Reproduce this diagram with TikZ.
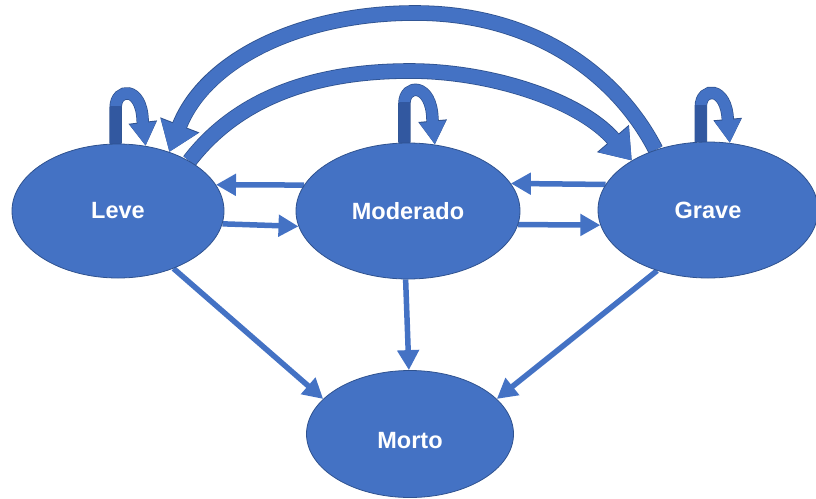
\documentclass[tikz,border=0pt]{standalone}
\usepackage{fontspec}
\setsansfont{Liberation Sans}
\usepackage{tikz}
\usetikzlibrary{shapes.geometric,arrows.meta,backgrounds}
\definecolor{officeblue}{RGB}{68,114,196}
\definecolor{edgeblue}{RGB}{47,82,143}
\definecolor{shadeblue}{RGB}{50,88,160}
\tikzstyle{state} = [ellipse, draw=edgeblue, fill=officeblue, line width=0.8pt,
    inner sep=0pt, text=white, font=\sffamily\bfseries\fontsize{23.5}{27}\selectfont]
\tikzstyle{flow} = [draw=officeblue, line width=5.5pt, -{Triangle[length=20pt,width=21pt]}]
\tikzstyle{band} = [draw=officeblue, line width=14pt, -{Triangle[length=28pt,width=38pt]},
    preaction={draw=edgeblue, line width=15.6pt, -{Triangle[length=29pt,width=40pt]}}]
\tikzstyle{selfloop} = [draw=officeblue, line width=11pt, -{Triangle[length=23pt,width=25pt]},
    preaction={draw=edgeblue, line width=12.4pt, -{Triangle[length=24pt,width=27pt]}}]
\tikzstyle{loopshade} = [draw=shadeblue, line width=11pt]

\begin{document}
\begin{tikzpicture}[x=1pt,y=-1pt]
    \useasboundingbox (0,0) rectangle (816,498);

    \node[state, minimum width=212pt, minimum height=134pt] (leve) at (118,211) {Leve};
    \node[state, minimum width=224pt, minimum height=136pt] (moderado) at (408,211) {Moderado};
    \node[state, minimum width=220pt, minimum height=136pt] (grave) at (708,210) {Grave};
    \node[state, minimum width=207pt, minimum height=127pt] (morto) at (410,434) {\raisebox{-14pt}[0pt][0pt]{Morto}};

    \begin{scope}[on background layer]
    % transitions between neighbours and to Morto
    \draw[flow] (moderado.166) -- (leve.15);
    \draw[flow] (leve.-7) -- (moderado.-172);
    \draw[flow] (grave.166) -- (moderado.15);
    \draw[flow] (moderado.-7) -- (grave.-172);
    \draw[flow] (leve.-46) -- (morto.158);
    \draw[flow] (moderado.-92) -- (morto.91);
    \draw[flow] (grave.-130) -- (morto.22);

    % long arcs over the top
    \draw[band] (grave.131) .. controls (620,80) and (540,13) .. (415,13)
        .. controls (300,13) and (205,60) .. (leve.49);
    \draw[band] (leve.35) .. controls (240,95) and (320,71) .. (410,71)
        .. controls (490,71) and (580,100) .. (grave.147);

    % self loops
    \draw[selfloop] (leve.92) -- ++(0,-36) .. controls +(0,-20) and +(-1,-35) .. ++(27,13) -- (leve.67);
    \draw[loopshade] (leve.92) -- ++(0,-38);
    \draw[selfloop] (moderado.93) -- ++(0,-39) .. controls +(0,-20) and +(-1,-36) .. ++(28,15) -- (moderado.68);
    \draw[loopshade] (moderado.93) -- ++(0,-41);
    \draw[selfloop] (grave.96) -- ++(0,-35) .. controls +(0,-20) and +(-1,-35) .. ++(27,14) -- (grave.72.5);
    \draw[loopshade] (grave.96) -- ++(0,-37);
    \end{scope}
\end{tikzpicture}
\end{document}
